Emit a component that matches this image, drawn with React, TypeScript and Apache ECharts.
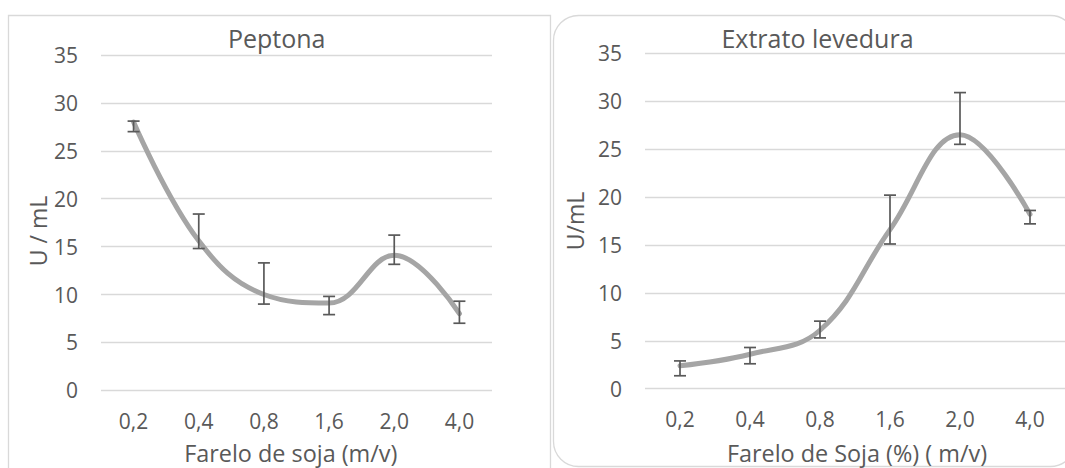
import React, { useEffect, useRef } from "react";
import * as echarts from "echarts";

// Soybean bran concentrations (shared by both panels)
const categories = ["0,2", "0,4", "0,8", "1,6", "2,0", "4,0"];

// Peptona panel: activity (U/mL) and the ends of each error bar
const peptonaValues = [28.0, 15.6, 10.0, 9.1, 14.1, 8.0];
const peptonaLow = [27.0, 14.8, 9.0, 7.9, 13.15, 7.0];
const peptonaHigh = [28.1, 18.4, 13.3, 9.8, 16.2, 9.3];

// Extrato levedura panel
const extratoValues = [2.4, 3.6, 6.1, 16.6, 26.5, 18.2];
const extratoLow = [1.35, 2.6, 5.3, 15.1, 25.5, 17.2];
const extratoHigh = [2.9, 4.3, 7.05, 20.2, 30.9, 18.6];

const yMin = 0;
const yMax = 35;
const yStep = 5;

const FONT = "'Open Sans', 'Noto Sans', sans-serif";
const TEXT = "#595959";
const GRID_LINE = "#d9d9d9";
const LINE = "#a5a5a5";

const errorBarRenderer = (params: any, api: any) => {
  const i = api.value(0);
  const lo = api.coord([i, api.value(1)]);
  const hi = api.coord([i, api.value(2)]);
  const half = 6;
  const style = { stroke: "#595959", lineWidth: 1.7 };
  return {
    type: "group",
    children: [
      { type: "line", shape: { x1: hi[0], y1: hi[1], x2: lo[0], y2: lo[1] }, style },
      { type: "line", shape: { x1: hi[0] - half, y1: hi[1], x2: hi[0] + half, y2: hi[1] }, style },
      { type: "line", shape: { x1: lo[0] - half, y1: lo[1], x2: lo[0] + half, y2: lo[1] }, style },
    ],
  };
};

const xAxisFor = (gridIndex: number) => ({
  type: "category",
  gridIndex,
  data: categories,
  boundaryGap: true,
  axisLine: { show: false },
  axisTick: { show: false },
  axisLabel: { color: TEXT, fontFamily: FONT, fontSize: 21, margin: 20 },
  splitLine: { show: false },
});

const yAxisFor = (gridIndex: number) => ({
  type: "value",
  gridIndex,
  min: yMin,
  max: yMax,
  interval: yStep,
  axisLine: { show: false },
  axisTick: { show: false },
  axisLabel: { color: TEXT, fontFamily: FONT, fontSize: 21, margin: 23 },
  splitLine: { show: true, lineStyle: { color: GRID_LINE, width: 1.3 } },
});

const lineSeries = (idx: number, values: number[]) => ({
  type: "line",
  xAxisIndex: idx,
  yAxisIndex: idx,
  data: values,
  smooth: 0.4,
  symbol: "none",
  lineStyle: { color: LINE, width: 5, cap: "round", join: "round" },
  z: 2,
});

const errorSeries = (idx: number, low: number[], high: number[]) => ({
  type: "custom",
  xAxisIndex: idx,
  yAxisIndex: idx,
  renderItem: errorBarRenderer,
  data: categories.map((_, i) => [i, low[i], high[i]]),
  encode: { x: 0, y: [1, 2] },
  clip: false,
  z: 3,
});

const label = (text: string, x: number, y: number, size: number, rotate = false) => ({
  type: "text",
  x,
  y,
  rotation: rotate ? Math.PI / 2 : 0,
  style: {
    text,
    fill: TEXT,
    font: `${size}px ${FONT}`,
    textAlign: "center",
    textVerticalAlign: "middle",
  },
  z: 10,
});

export default function App() {
  const ref = useRef<HTMLDivElement>(null);

  useEffect(() => {
    if (!ref.current) return;
    const chart = echarts.init(ref.current, undefined, { renderer: "svg" });
    chart.setOption({
      animation: false,
      backgroundColor: "#ffffff",
      grid: [
        { left: 101, top: 55, width: 391, height: 335.3 },
        { left: 645, top: 53.3, width: 426, height: 335.4 },
      ],
      xAxis: [xAxisFor(0), xAxisFor(1)],
      yAxis: [yAxisFor(0), yAxisFor(1)],
      series: [
        lineSeries(0, peptonaValues),
        errorSeries(0, peptonaLow, peptonaHigh),
        lineSeries(1, extratoValues),
        errorSeries(1, extratoLow, extratoHigh),
      ],
      graphic: [
        {
          type: "rect",
          shape: { x: 8.5, y: 15.5, width: 542, height: 470 },
          style: { fill: "none", stroke: GRID_LINE, lineWidth: 1.3 },
          z: 0,
        },
        {
          type: "rect",
          shape: { x: 553.5, y: 15.5, width: 522, height: 451, r: 25 },
          style: { fill: "none", stroke: GRID_LINE, lineWidth: 1.3 },
          z: 0,
        },
        label("Peptona", 276.7, 38, 25),
        label("Extrato levedura", 817.5, 37.5, 25),
        label("Farelo de soja (m/v)", 290.8, 453, 23.4),
        label("Farelo de Soja (%) ( m/v)", 857, 453, 23.4),
        label("U / mL", 37.5, 231, 23, true),
        label("U/mL", 575, 221, 23, true),
      ],
    });
    return () => chart.dispose();
  }, []);

  return (
    <div
      ref={ref}
      style={{ position: "fixed", left: 0, top: 0, width: 1065, height: 468, background: "#fff" }}
    />
  );
}
